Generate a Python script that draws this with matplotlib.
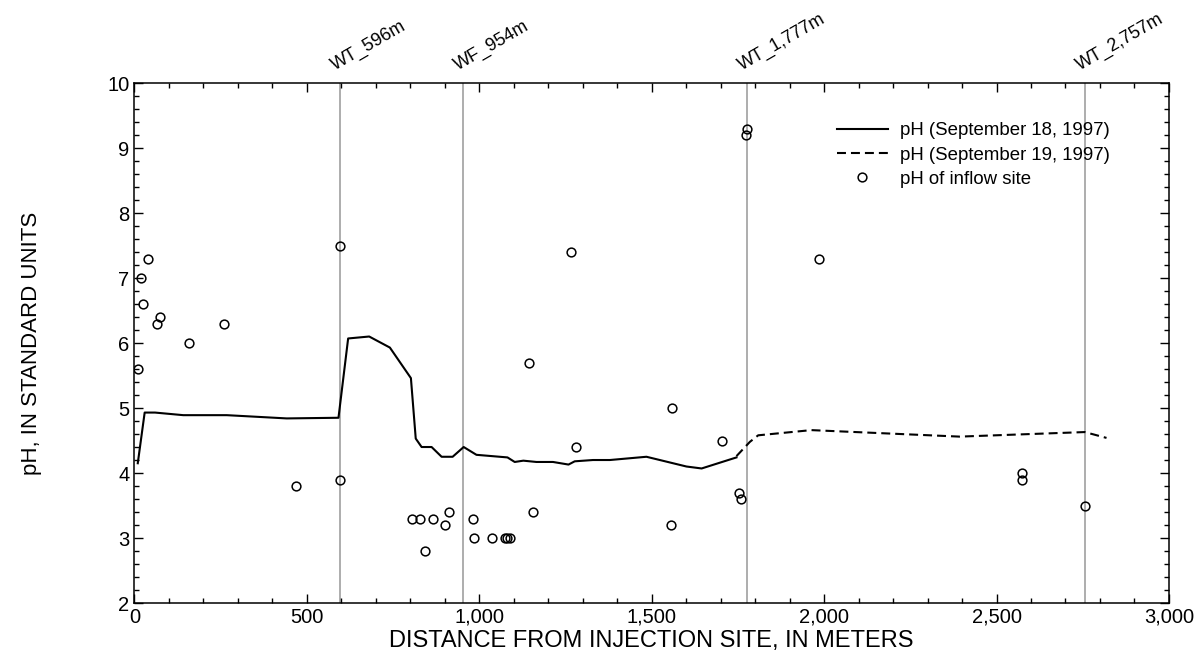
import matplotlib
matplotlib.use("Agg")
import matplotlib.pyplot as plt
from matplotlib.ticker import MultipleLocator, FuncFormatter

plt.rcParams['font.family'] = ['Liberation Sans', 'DejaVu Sans']

# pH along the stream, September 18, 1997 (solid)
sep18_dist = [10, 30, 60, 142, 268, 442, 592, 620, 681, 741, 802, 816, 833, 862,
              891, 923, 955, 992, 1082, 1103, 1128, 1166, 1214, 1259, 1277, 1330,
              1379, 1485, 1601, 1645, 1746]
sep18_ph = [4.15, 4.93, 4.93, 4.89, 4.89, 4.84, 4.85, 6.07, 6.10, 5.93, 5.46, 4.53,
            4.40, 4.40, 4.25, 4.25, 4.40, 4.28, 4.24, 4.17, 4.19, 4.17, 4.17, 4.13,
            4.18, 4.20, 4.20, 4.25, 4.10, 4.07, 4.24]

# pH along the stream, September 19, 1997 (dashed)
sep19_dist = [1746, 1785, 1809, 1963, 2393, 2756, 2819]
sep19_ph = [4.26, 4.48, 4.58, 4.66, 4.56, 4.63, 4.54]

# inflow sites
inflow_dist = [10, 20, 25, 40, 65, 75, 160, 260, 470, 596, 596, 806, 829, 867, 844,
               901, 912, 981, 985, 1037, 1074, 1082, 1090, 1143, 1155, 1265, 1282,
               1555, 1560, 1705, 1753, 1760, 1775, 1777, 1985, 2575, 2575, 2757]
inflow_ph = [5.6, 7.0, 6.6, 7.3, 6.3, 6.4, 6.0, 6.3, 3.8, 7.5, 3.9, 3.3, 3.3, 3.3, 2.8,
             3.2, 3.4, 3.3, 3.0, 3.0, 3.0, 3.0, 3.0, 5.7, 3.4, 7.4, 4.4,
             3.2, 5.0, 4.5, 3.7, 3.6, 9.2, 9.3, 7.3, 4.0, 3.9, 3.5]

# sampling stations marked on top
station_names = ["WT_596m", "WF_954m", "WT_1,777m", "WT_2,757m"]
station_dist = [596, 954, 1777, 2757]

fig = plt.figure(figsize=(11.95, 6.62), dpi=100)
ax = fig.add_axes([0.1124, 0.0891, 0.8658, 0.7855])

for d, name in zip(station_dist, station_names):
    ax.axvline(d, color='#a0a0a0', lw=1.2, zorder=1)
    ax.annotate(name, xy=(d, 1.0), xycoords=('data', 'axes fraction'),
                xytext=(-3, 9), textcoords='offset pixels',
                rotation=30, rotation_mode='anchor', ha='left', va='bottom',
                fontsize=13)

ax.plot(sep18_dist, sep18_ph, color='black', lw=1.5, ls='-',
        label='pH (September 18, 1997)', zorder=3)
ax.plot(sep19_dist, sep19_ph, color='black', lw=1.5, ls=(0, (4.3, 2.4)),
        label='pH (September 19, 1997)', zorder=3)
ax.plot(inflow_dist, inflow_ph, ls='none', marker='o', ms=6.3, mfc='none',
        mec='black', mew=1.1, label='pH of inflow site', zorder=4)

ax.set_xlim(0, 3000)
ax.set_ylim(2, 10)
ax.xaxis.set_major_locator(MultipleLocator(500))
ax.xaxis.set_minor_locator(MultipleLocator(100))
ax.yaxis.set_major_locator(MultipleLocator(1))
ax.yaxis.set_minor_locator(MultipleLocator(0.2))
ax.xaxis.set_major_formatter(FuncFormatter(lambda v, p: f"{int(v):,}"))
ax.tick_params(which='both', direction='in', top=True, right=True, labelsize=14.5)
ax.tick_params(which='major', length=6.5, width=1)
ax.tick_params(which='minor', length=3.5, width=1)
for s in ax.spines.values():
    s.set_linewidth(1.1)

ax.set_xlabel("DISTANCE FROM INJECTION SITE, IN METERS", fontsize=17, labelpad=2)
ax.set_ylabel("pH, IN STANDARD UNITS", fontsize=16, labelpad=47)

ax.legend(loc='upper left', bbox_to_anchor=(0.679, 0.925), frameon=False,
          borderpad=0, borderaxespad=0,
          fontsize=13.4, handlelength=2.75, handletextpad=0.65, labelspacing=0.4)

fig.savefig("out.png", dpi=100)
